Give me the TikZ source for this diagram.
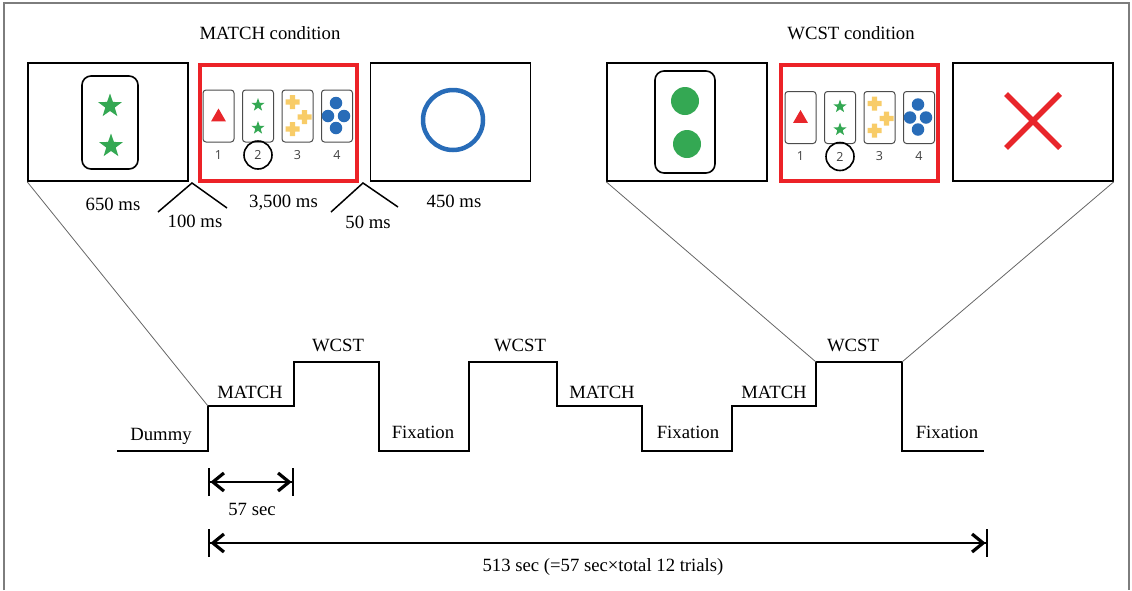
\documentclass[tikz,border=0pt]{standalone}
\usepackage{fontspec}
\setmainfont{Liberation Serif}
\newfontfamily\cardfont{Open Sans}
\usetikzlibrary{shapes.geometric,arrows.meta}
\definecolor{frameRed}{RGB}{236,34,39}
\definecolor{shapeRed}{RGB}{232,38,43}
\definecolor{cardGreen}{RGB}{52,168,83}
\definecolor{cardYellow}{RGB}{248,204,104}
\definecolor{cardBlue}{RGB}{40,108,184}
\definecolor{frameGray}{RGB}{125,125,125}
\tikzset{
  panel/.style={draw, line width=1.6, minimum width=160, minimum height=118, inner sep=0},
  redpanel/.style={draw=frameRed, line width=4, minimum width=157, minimum height=116, inner sep=0},
  bigcard/.style={draw, line width=1.6, rounded corners=9, inner sep=0},
  smallcard/.style={draw=black!70, line width=1, rounded corners=3, minimum width=31, minimum height=52, inner sep=0},
  cardnum/.style={text=black!75, font=\cardfont\fontsize{12.5}{13}\selectfont, inner sep=0},
  bigstar/.style={star, star points=5, star point ratio=2.5, fill=cardGreen, minimum size=25, inner sep=0},
  smallstar/.style={star, star points=5, star point ratio=2.5, fill=cardGreen, minimum size=14, inner sep=0},
  bigdot/.style={circle, fill=cardGreen, minimum size=28, inner sep=0},
  smalldot/.style={circle, fill=cardBlue, minimum size=12.5, inner sep=0},
  tri/.style={regular polygon, regular polygon sides=3, fill=shapeRed, minimum size=17, inner sep=0},
  pickring/.style={draw, circle, line width=1.6, minimum size=28, inner sep=0},
  trace/.style={line width=2.4, line join=miter},
  zoomline/.style={draw=black!60, line width=0.8},
  joint/.style={line width=1.5},
  spanarrow/.style={line width=2.4, {Bar[width=28,line width=2.4]Straight Barb[length=11,width=18,line width=3.2]}-{Straight Barb[length=11,width=18,line width=3.2]Bar[width=28,line width=2.4]}},
  lbl/.style={anchor=base, inner sep=0},
  plusmark/.pic={\fill[cardYellow] (-7,-2.6) rectangle (7,2.6) (-2.6,-7) rectangle (2.6,7);}
}
\newcommand{\cardrow}[3]{%
  \foreach \i in {1,...,4} {
    \node[smallcard] (#1c\i) at ({#2+39.5*(\i-1)},#3) {};
    \node[cardnum] (#1n\i) at ({#2+39.5*(\i-1)},#3+39) {\i};
  }
  \node[tri] (#1tri) at ([shift={(0,1)}]#1c1.center) {};
  \node[smallstar] (#1sa) at ([shift={(0,-11)}]#1c2.center) {};
  \node[smallstar] (#1sb) at ([shift={(0,12)}]#1c2.center) {};
  \pic (#1pa) at ([shift={(-5,-14)}]#1c3.center) {plusmark};
  \pic (#1pb) at ([shift={(7,1)}]#1c3.center) {plusmark};
  \pic (#1pc) at ([shift={(-5,13)}]#1c3.center) {plusmark};
  \node[smalldot] (#1da) at ([shift={(-1,-13)}]#1c4.center) {};
  \node[smalldot] (#1db) at ([shift={(-9,0)}]#1c4.center) {};
  \node[smalldot] (#1dc) at ([shift={(7,0)}]#1c4.center) {};
  \node[smalldot] (#1dd) at ([shift={(-1,12)}]#1c4.center) {};
  \node[pickring] (#1pick) at (#1n2) {};
}
\begin{document}
\begin{tikzpicture}[x=1pt,y=-1pt,font=\fontsize{18.7}{22}\selectfont]
\useasboundingbox (0,0) rectangle (1132,590);
\draw[frameGray, line width=1.2] (4,590) -- (4,3) -- (1129,3) -- (1129,590);

\node[lbl] (mtitle) at (270,39) {MATCH condition};
\node[lbl] (wtitle) at (851,39) {WCST condition};

\node[panel] (mcue) at (108,122) {};
\node[redpanel] (mchoice) at (278.5,123) {};
\node[panel] (mfeed) at (450.5,122) {};
\node[panel] (wcue) at (687,122) {};
\node[redpanel] (wchoice) at (859.5,123) {};
\node[panel] (wfeed) at (1033,122) {};

\node[bigcard, minimum width=56, minimum height=93] (mcard) at (110,122.5) {};
\node[bigstar] (mstarA) at (110,106) {};
\node[bigstar] (mstarB) at (111,146) {};
\node[bigcard, minimum width=60, minimum height=102] (wcard) at (685,122) {};
\node[bigdot] (wdotA) at (685,101) {};
\node[bigdot] (wdotB) at (687,144) {};
\node[draw=cardBlue, line width=4.5, circle, minimum size=60, inner sep=0] (ring) at (453,120) {};
\draw[shapeRed, line width=5.5] (1006,94) -- (1060,148) (1006,148) -- (1060,94);

\cardrow{m}{218.5}{116}
\cardrow{w}{800.5}{117.5}

\coordinate (va) at (192,183);
\coordinate (vaL) at (158,212);
\coordinate (vaR) at (227,208);
\coordinate (vb) at (363,183);
\coordinate (vbL) at (331,212);
\coordinate (vbR) at (398,207);
\draw[joint] (vaL) -- (va) -- (vaR);
\draw[joint] (vbL) -- (vb) -- (vbR);

\node[lbl] (l650) at (113,210) {650 ms};
\node[lbl] (l100) at (195,227) {100 ms};
\node[lbl] (l3500) at (283.5,207) {3,500 ms};
\node[lbl] (l50) at (368,228) {50 ms};
\node[lbl] (l450) at (454,207) {450 ms};

\coordinate (tA) at (208,406);
\coordinate (tB) at (816,362);
\coordinate (tC) at (902,362);
\draw[trace] (117,451) -| (tA) -| (294,362) -| (379,451) -| (469,362) -| (557,406)
  -| (642,451) -| (732,406) -| (tB) -| (902,451) -- (984,451);
\draw[zoomline] (mcue.south west) -- (tA);
\draw[zoomline] (wcue.south west) -- (tB);
\draw[zoomline] (wfeed.south east) -- (tC);

\node[lbl] (b0) at (161,440) {Dummy};
\node[lbl] (b1) at (250,398) {MATCH};
\node[lbl] (b2) at (338,351) {WCST};
\node[lbl] (b3) at (423,438) {Fixation};
\node[lbl] (b4) at (520,351) {WCST};
\node[lbl] (b5) at (602,398) {MATCH};
\node[lbl] (b6) at (688,438) {Fixation};
\node[lbl] (b7) at (774,398) {MATCH};
\node[lbl] (b8) at (853,351) {WCST};
\node[lbl] (b9) at (947,438) {Fixation};

\coordinate (d1a) at (208,482);
\coordinate (d1b) at (294,482);
\coordinate (d2a) at (208,543);
\coordinate (d2b) at (988,543);
\draw[spanarrow] (d1a) -- (d1b);
\draw[spanarrow] (d2a) -- (d2b);
\node[lbl] (l57) at (252,515) {57 sec};
\node[lbl] (l513) at (603,571) {513 sec (=57 sec×total 12 trials)};
\end{tikzpicture}
\end{document}
